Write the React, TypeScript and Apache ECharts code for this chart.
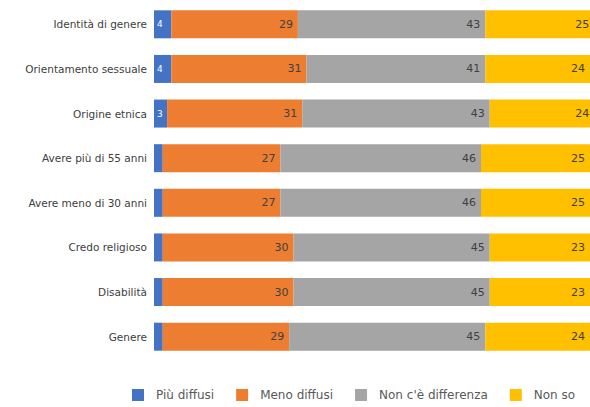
import React, { useEffect, useRef } from "react";
import * as echarts from "echarts";

const categories = [
  "Identità di genere",
  "Orientamento sessuale",
  "Origine etnica",
  "Avere più di 55 anni",
  "Avere meno di 30 anni",
  "Credo religioso",
  "Disabilità",
  "Genere",
];
const piuDiffusi = [4, 4, 3, 2, 2, 2, 2, 2];
const menoDiffusi = [29, 31, 31, 27, 27, 30, 30, 29];
const nonDifferenza = [43, 41, 43, 46, 46, 45, 45, 45];
const nonSo = [25, 24, 24, 25, 25, 23, 23, 24];

const seriesNames = ["Più diffusi", "Meno diffusi", "Non c'è differenza", "Non so"];
const seriesColors = ["#4472C4", "#ED7D31", "#A5A5A5", "#FFC000"];

export default function App() {
  const ref = useRef<HTMLDivElement>(null);
  useEffect(() => {
    const chart = echarts.init(ref.current!, null, { renderer: "svg" });
    const datas = [piuDiffusi, menoDiffusi, nonDifferenza, nonSo];
    chart.setOption({
      animation: false,
      textStyle: { fontFamily: "DejaVu Sans" },
      grid: { left: 154, right: -3, top: 2, bottom: 48, containLabel: false },
      xAxis: { type: "value", min: 0, max: 100, show: false },
      yAxis: {
        type: "category",
        data: categories,
        inverse: true,
        axisLine: { show: false },
        axisTick: { show: false },
        axisLabel: { color: "#404040", fontSize: 10.5, margin: 7 },
      },
      legend: {
        data: seriesNames,
        top: 389,
        left: 132,
        itemWidth: 12,
        itemHeight: 12,
        itemGap: 22,
        padding: 0,
        icon: "rect",
        textStyle: { color: "#595959", fontSize: 12, padding: [0, 0, 0, 7] },
      },
      series: datas.map((d, i) => ({
        name: seriesNames[i],
        type: "bar",
        stack: "total",
        barWidth: 28,
        clip: false,
        itemStyle: { color: seriesColors[i] },
        data: d,
        label: {
          show: true,
          position: i === 0 ? "insideLeft" : "insideRight",
          distance: i === 0 ? 3 : 5,
          color: i === 0 ? "#ffffff" : "#404040",
          fontSize: i === 0 ? 9 : 11,
          formatter: (p: any) => (i === 0 && p.value < 3 ? "" : String(p.value)),
        },
      })),
    });
    return () => chart.dispose();
  }, []);
  return <div ref={ref} style={{ width: 590, height: 407, position: "absolute", left: 0, top: 0 }} />;
}
